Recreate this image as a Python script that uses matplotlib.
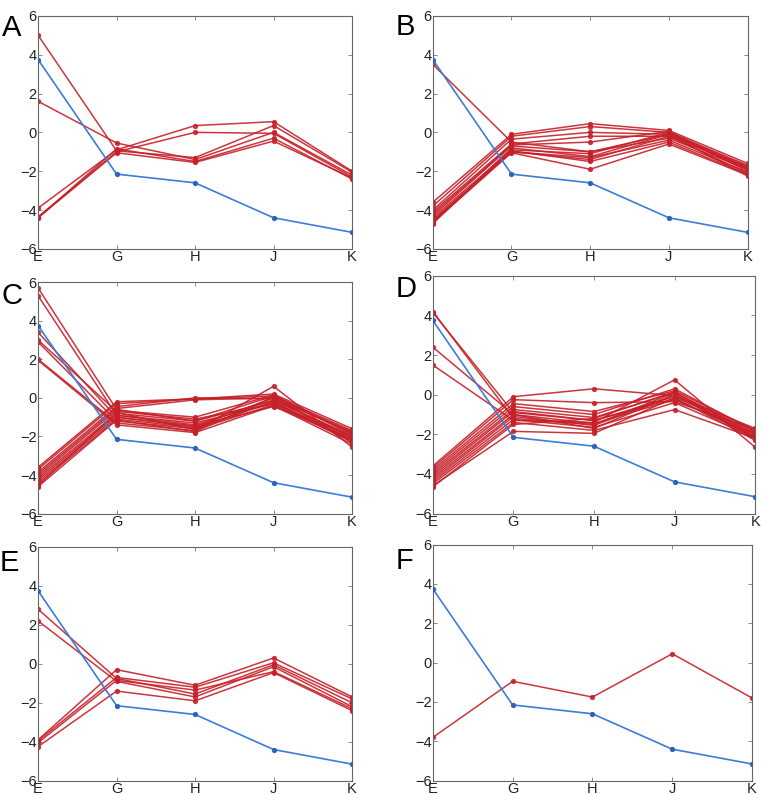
"""Six-panel profile plot: red sample profiles against one blue reference profile."""

import matplotlib

matplotlib.use("Agg")
import matplotlib.pyplot as plt  # noqa: E402

plt.rcParams["font.family"] = ["Liberation Sans", "DejaVu Sans"]

categories = ["E", "G", "H", "J", "K"]
y_ticks = [-6, -4, -2, 0, 2, 4, 6]

reference = [3.75, -2.15, -2.6, -4.4, -5.15]

panel_a = [
    [5.0, -0.95, -1.3, 0.35, -2.05],
    [1.6, -0.55, -1.4, 0.0, -2.2],
    [-3.9, -0.9, 0.35, 0.55, -2.0],
    [-4.35, -1.0, 0.0, -0.05, -2.3],
    [-4.4, -0.85, -1.5, -0.3, -2.4],
    [-4.4, -1.05, -1.55, -0.45, -2.35],
]

panel_b = [
    [3.5, -0.5, -1.0, -0.1, -1.9],
    [-3.6, -0.1, 0.45, 0.1, -1.6],
    [-3.8, -0.2, 0.3, 0.0, -1.7],
    [-4.0, -0.35, 0.0, -0.1, -1.75],
    [-4.1, -0.6, -0.2, -0.2, -1.8],
    [-4.2, -0.65, -0.5, 0.05, -1.85],
    [-4.3, -0.7, -1.0, -0.3, -1.9],
    [-4.4, -0.9, -1.1, 0.0, -2.0],
    [-4.5, -1.0, -1.3, -0.4, -2.05],
    [-4.55, -1.0, -1.4, -0.2, -2.1],
    [-4.6, -0.95, -1.5, -0.5, -2.15],
    [-4.65, -1.05, -1.9, -0.6, -2.2],
    [-4.7, -0.8, -1.25, -0.1, -2.25],
]

panel_c = [
    [5.7, -0.6, -1.2, 0.1, -1.9],
    [5.3, -0.9, -1.4, -0.1, -2.0],
    [3.4, -1.0, -1.5, 0.0, -2.1],
    [3.0, -0.7, -1.1, -0.3, -2.2],
    [2.9, -1.2, -1.6, -0.2, -2.3],
    [2.0, -1.3, -1.7, 0.6, -2.55],
    [1.95, -1.4, -1.8, -0.4, -2.4],
    [-3.6, -0.2, -0.05, 0.2, -1.6],
    [-3.7, -0.3, -0.05, 0.1, -1.7],
    [-3.85, -0.45, 0.0, -0.05, -1.75],
    [-3.95, -0.55, -0.1, 0.0, -1.8],
    [-4.05, -0.65, -1.0, 0.15, -1.85],
    [-4.15, -0.8, -1.2, -0.15, -1.95],
    [-4.25, -0.9, -1.3, -0.3, -2.0],
    [-4.35, -1.0, -1.45, -0.45, -2.1],
    [-4.45, -1.1, -1.55, -0.2, -2.15],
    [-4.55, -0.75, -1.65, -0.35, -2.25],
    [-4.6, -1.15, -1.75, 0.05, -2.3],
]

panel_d = [
    [4.2, -1.2, -1.5, 0.1, -2.0],
    [4.15, -0.9, -1.3, -0.2, -2.1],
    [2.4, -1.0, -1.7, 0.0, -2.2],
    [1.5, -1.3, -1.4, 0.75, -2.65],
    [-3.6, -0.1, 0.3, -0.05, -1.7],
    [-3.7, -0.25, -0.4, -0.35, -1.75],
    [-3.8, -0.45, -0.85, 0.2, -1.8],
    [-3.9, -0.6, -1.0, 0.3, -1.85],
    [-4.0, -0.75, -1.15, 0.1, -1.9],
    [-4.1, -0.85, -1.3, -0.1, -1.95],
    [-4.2, -1.0, -1.45, -0.25, -2.0],
    [-4.3, -1.1, -1.55, 0.0, -2.1],
    [-4.4, -1.25, -1.65, -0.4, -2.15],
    [-4.5, -1.4, -1.8, -0.75, -2.2],
    [-4.6, -1.85, -1.95, -0.15, -2.3],
    [-4.65, -1.5, -1.2, 0.15, -2.25],
]

panel_e = [
    [2.8, -0.75, -1.55, -0.05, -2.0],
    [2.2, -0.9, -1.7, -0.15, -2.2],
    [-3.9, -0.3, -1.1, 0.3, -1.7],
    [-3.95, -0.7, -1.2, 0.05, -1.8],
    [-4.05, -0.85, -1.35, -0.4, -2.3],
    [-4.25, -1.4, -1.9, -0.45, -2.4],
]

panel_f = [
    [-3.8, -0.95, -1.75, 0.45, -1.8],
]

panel_labels = ["A", "B", "C", "D", "E", "F"]
panel_data = [panel_a, panel_b, panel_c, panel_d, panel_e, panel_f]

# axes boxes in figure fraction: left, bottom, width, height
boxes = [
    [0.050, 0.687, 0.412, 0.293],
    [0.568, 0.687, 0.413, 0.293],
    [0.050, 0.354, 0.412, 0.291],
    [0.568, 0.354, 0.423, 0.299],
    [0.050, 0.018, 0.412, 0.294],
    [0.568, 0.018, 0.419, 0.297],
]
label_pos = [
    (0.002, 0.982), (0.519, 0.984),
    (0.002, 0.645), (0.519, 0.654),
    (0.000, 0.309), (0.519, 0.312),
]

RED = "#c62029"
BLUE = "#3b7dd8"

fig = plt.figure(figsize=(7.62, 7.95), dpi=100)

for label, lines, box, lpos in zip(panel_labels, panel_data, boxes, label_pos):
    ax = fig.add_axes(box)
    x = list(range(len(categories)))
    for vals in lines:
        ax.plot(x, vals, color=RED, lw=1.1, marker="o", ms=3.8,
                markeredgewidth=0, alpha=0.9, zorder=2)
    ax.plot(x, reference, color=BLUE, lw=1.2, marker="o", ms=3.8,
            markeredgewidth=0, markerfacecolor="#2f62b8", zorder=3)

    ax.set_xlim(0, len(categories) - 1)
    ax.set_ylim(-6, 6)
    ax.set_xticks(x)
    ax.set_xticklabels(categories)
    ax.set_yticks(y_ticks)
    ax.tick_params(direction="in", length=3, width=0.6, colors="#777777",
                   labelcolor="#222222", labelsize=10.5, pad=1,
                   top=True, right=True)
    for s in ax.spines.values():
        s.set_color("#666666")
        s.set_linewidth(0.8)

    fig.text(lpos[0], lpos[1], label, fontsize=21, va="top", ha="left",
             color="black")

fig.savefig("out.png", dpi=100, facecolor="white")
plt.close(fig)
